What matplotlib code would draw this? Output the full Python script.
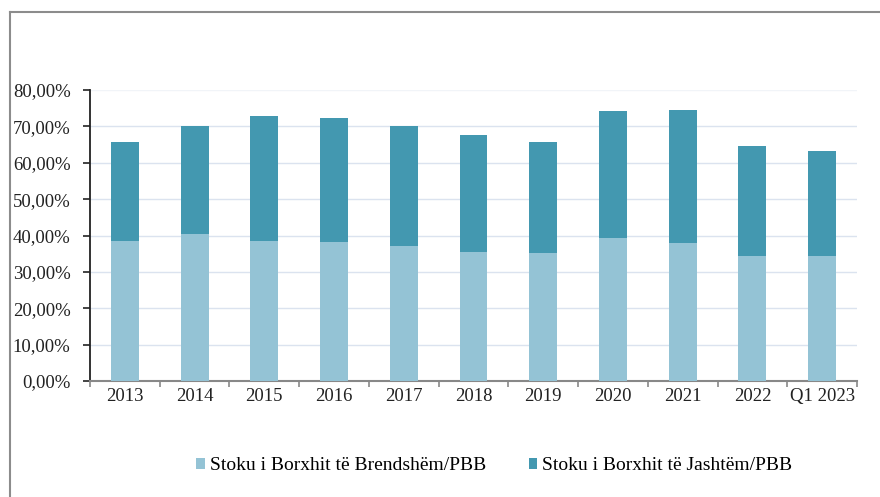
import matplotlib
matplotlib.use('Agg')
import matplotlib.pyplot as plt
from matplotlib.lines import Line2D
from matplotlib.ticker import FuncFormatter, FixedLocator
import numpy as np

# data (% of GDP)
categories = ['2013', '2014', '2015', '2016', '2017', '2018', '2019',
              '2020', '2021', '2022', 'Q1 2023']
domestic = [38.6, 40.4, 38.4, 38.2, 37.2, 35.6, 35.3, 39.2, 37.9, 34.4, 34.4]
external = [27.0, 29.6, 34.4, 34.1, 32.8, 32.0, 30.5, 35.1, 36.6, 30.1, 28.9]
labels = ['Stoku i Borxhit të Brendshëm/PBB', 'Stoku i Borxhit të Jashtëm/PBB']

light_col = '#94c3d5'
dark_col = '#4398b0'

plt.rcParams['font.family'] = ['Liberation Serif', 'DejaVu Serif']

fig = plt.figure(figsize=(8.8, 4.97), dpi=100, facecolor='white')
ax = fig.add_axes([0.1023, 0.2334, 0.8716, 0.5855])

x = np.arange(len(categories))
ax.bar(x, domestic, width=0.40, color=light_col, label=labels[0], zorder=3)
ax.bar(x, external, width=0.40, bottom=domestic, color=dark_col, label=labels[1], zorder=3)

ax.set_xlim(-0.5, len(categories) - 0.5)
ax.set_ylim(0, 80)
ax.set_yticks(np.arange(0, 81, 10))
ax.yaxis.set_major_formatter(FuncFormatter(lambda v, p: f'{v:.2f}'.replace('.', ',') + '%'))

# gridlines
for v in range(10, 80, 10):
    ax.axhline(v, color='#dbe3ef', linewidth=1.0, zorder=1)
ax.axhline(80, color='#f1f4f8', linewidth=1.0, zorder=1)

ax.set_xticks(x)
ax.set_xticklabels(categories)
ax.xaxis.set_minor_locator(FixedLocator(np.arange(-0.5, len(categories), 1.0)))
ax.tick_params(axis='x', which='major', length=0, labelsize=13.5, pad=5, colors='#222222')
ax.tick_params(axis='x', which='minor', length=4, width=1.2, color='#888888')
ax.tick_params(axis='y', length=5, width=1.2, color='#222222', labelsize=13.5, pad=9,
               labelcolor='#222222')

for s in ['top', 'right']:
    ax.spines[s].set_visible(False)
ax.spines['left'].set_color('#222222')
ax.spines['left'].set_linewidth(1.3)
ax.spines['bottom'].set_color('#888888')
ax.spines['bottom'].set_linewidth(1.5)

ax.legend(loc='center', bbox_to_anchor=(0.527, -0.292), ncol=2, frameon=False,
          fontsize=14, handlelength=0.45, handleheight=0.45, handletextpad=0.25,
          columnspacing=2.2)

# outer frame lines (top and left)
fig.add_artist(Line2D([9.5 / 880, 1.0], [1 - 12 / 497, 1 - 12 / 497],
                      transform=fig.transFigure, color='#8c8c8c', linewidth=1.5))
fig.add_artist(Line2D([9.5 / 880, 9.5 / 880], [0, 1 - 12 / 497],
                      transform=fig.transFigure, color='#8c8c8c', linewidth=1.5))

plt.savefig('out.png', dpi=100, facecolor='white')
